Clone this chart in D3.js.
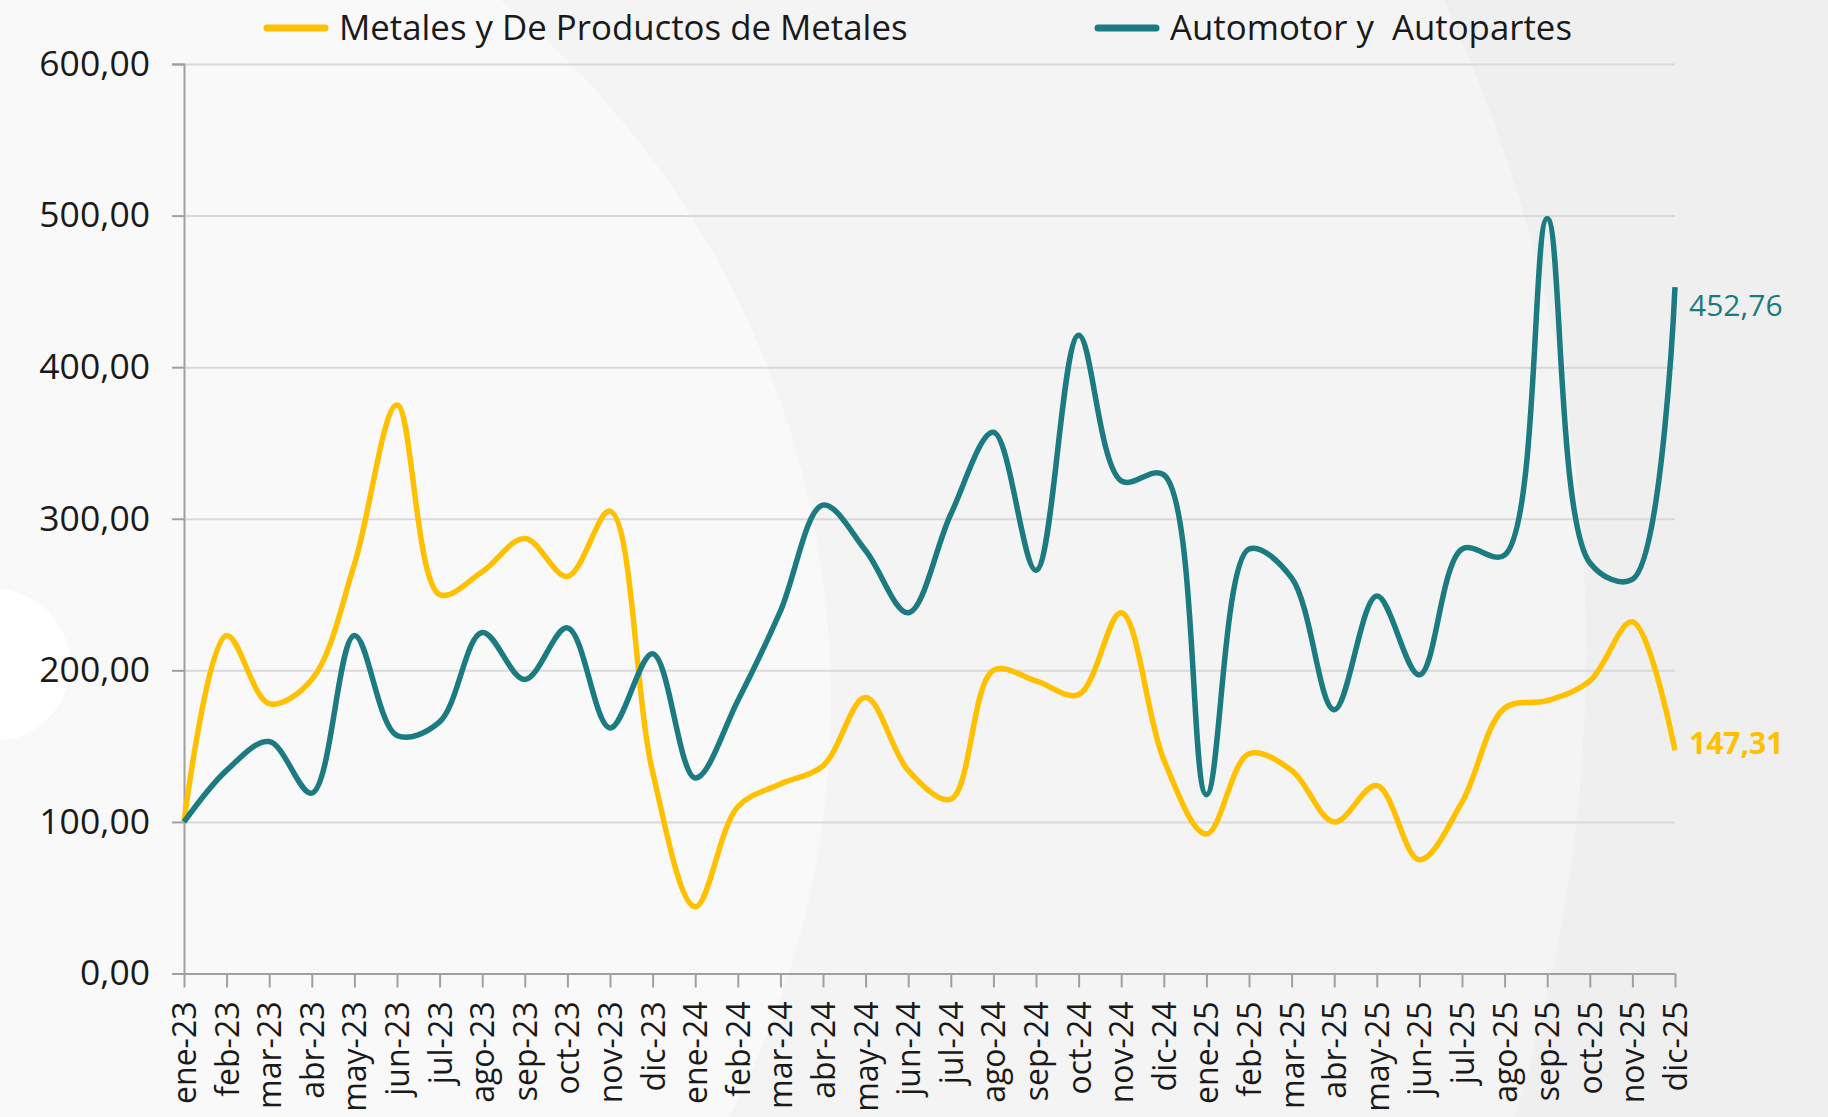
<!DOCTYPE html>
<html>
<head>
<meta charset="utf-8">
<script src="https://cdn.jsdelivr.net/npm/d3@7"></script>
<style>
  body { margin: 0; background: #efefef; }
  svg { display: block; font-family: "Open Sans", sans-serif; }
</style>
</head>
<body>
<svg></svg>
<script>
var width = 1828, height = 1117;

// meses (eje x)
var months = ["ene-23","feb-23","mar-23","abr-23","may-23","jun-23","jul-23","ago-23","sep-23","oct-23","nov-23","dic-23",
              "ene-24","feb-24","mar-24","abr-24","may-24","jun-24","jul-24","ago-24","sep-24","oct-24","nov-24","dic-24",
              "ene-25","feb-25","mar-25","abr-25","may-25","jun-25","jul-25","ago-25","sep-25","oct-25","nov-25","dic-25"];

var metales = [100, 223, 178, 194, 270, 375, 250, 265, 287, 262, 305, 133,
               44, 110, 125, 137, 182, 134, 115, 200, 193, 184, 238, 141,
               92, 145, 134, 100, 124, 75, 113, 175, 180, 193, 232, 147.31];

var automotor = [100, 134, 153, 119, 223, 157, 166, 225, 194, 228, 162, 211,
                 129, 180, 239, 309, 279, 238, 303, 357, 266, 421, 325, 329,
                 118, 280, 261, 174, 249, 197, 280, 276, 498, 271, 260, 452.76];

var yTicks = [0, 100, 200, 300, 400, 500, 600];

var series = [
  {name: "Metales y De Productos de Metales", values: metales, color: "#FFC000"},
  {name: "Automotor y\u00a0 Autopartes", values: automotor, color: "#1B7B80"}
];

var es = d3.formatLocale({decimal: ",", thousands: ".", grouping: [3], currency: ["", "€"]});
var fmt = es.format(".2f");

var svg = d3.select("svg").attr("width", width).attr("height", height);

// fondo
svg.append("rect").attr("width", width).attr("height", height).attr("fill", "#efefef");
svg.append("circle").attr("cx", 28).attr("cy", 650).attr("r", 1558).attr("fill", "#f4f4f4");
svg.append("circle").attr("cx", -76).attr("cy", 700).attr("r", 907).attr("fill", "#f9f9f9");
svg.append("circle").attr("cx", -6).attr("cy", 665).attr("r", 76).attr("fill", "#ffffff");

var xScale = d3.scalePoint()
               .domain(months)
               .range([184, 1675]);

var yScale = d3.scaleLinear()
               .domain([0, 600])
               .range([973.5, 64]);

// grid
svg.append("g")
   .attr("transform", "translate(184,0)")
   .call(d3.axisLeft(yScale).tickValues(yTicks).tickSize(-(1675 - 184)).tickFormat(""))
   .call(g => g.select(".domain").remove())
   .call(g => g.selectAll("line").attr("stroke", "#d9d9d9").attr("stroke-width", 2));

// eje y
var yAxis = svg.append("g")
   .attr("transform", "translate(184,0)")
   .call(d3.axisLeft(yScale).tickValues(yTicks).tickSize(12).tickPadding(22).tickFormat(fmt));
yAxis.select(".domain").attr("stroke", "#a0a0a0").attr("stroke-width", 2);
yAxis.selectAll("line").attr("stroke", "#a0a0a0").attr("stroke-width", 2);
yAxis.selectAll("text").attr("fill", "#1a1a1a").style("font-size", "35.5px").style("font-family", "Open Sans");

// eje x
var xAxis = svg.append("g")
   .attr("transform", "translate(0,973.5)")
   .call(d3.axisBottom(xScale).tickSize(14).tickSizeOuter(0));
xAxis.select(".domain").attr("stroke", "#a0a0a0").attr("stroke-width", 2);
xAxis.selectAll("line").attr("stroke", "#a0a0a0").attr("stroke-width", 2);
xAxis.selectAll("text")
     .attr("transform", "rotate(-90)")
     .attr("text-anchor", "end")
     .attr("x", -28)
     .attr("y", 0)
     .attr("dy", "0.36em")
     .attr("fill", "#1a1a1a")
     .style("font-size", "32px")
     .style("font-family", "Open Sans");

// lineas
var line = d3.line()
             .x((d, i) => xScale(months[i]))
             .y(d => yScale(d))
             .curve(d3.curveCatmullRom.alpha(0.5));

svg.selectAll("path.serie")
   .data(series)
   .enter()
   .append("path")
   .classed("serie", true)
   .attr("d", d => line(d.values))
   .attr("fill", "none")
   .attr("stroke", d => d.color)
   .attr("stroke-width", 5.5)
   .attr("stroke-linejoin", "round");

// etiquetas finales
var last = months.length - 1;
svg.append("text")
   .attr("x", xScale(months[last]) + 14)
   .attr("y", yScale(automotor[last]) + 18)
   .attr("dy", "0.35em")
   .attr("fill", "#1B7B80")
   .style("font-size", "30px")
   .text(fmt(automotor[last]));

svg.append("text")
   .attr("x", xScale(months[last]) + 14)
   .attr("y", yScale(metales[last]) - 7)
   .attr("dy", "0.35em")
   .attr("fill", "#FFC000")
   .style("font-size", "30px")
   .style("font-weight", "bold")
   .text(fmt(metales[last]));

// leyenda
var legendX = [267, 1098];
var legend = svg.selectAll("g.legend")
   .data(series)
   .enter()
   .append("g")
   .classed("legend", true)
   .attr("transform", (d, i) => "translate(" + legendX[i] + ",28)");

legend.append("line")
      .attr("x1", 0).attr("x2", 58)
      .attr("stroke", d => d.color)
      .attr("stroke-width", 7)
      .attr("stroke-linecap", "round");

legend.append("text")
      .attr("x", 72)
      .attr("dy", "0.35em")
      .attr("fill", "#1a1a1a")
      .style("font-size", "34.8px")
      .style("white-space", "pre")
      .text(d => d.name);
</script>
</body>
</html>
